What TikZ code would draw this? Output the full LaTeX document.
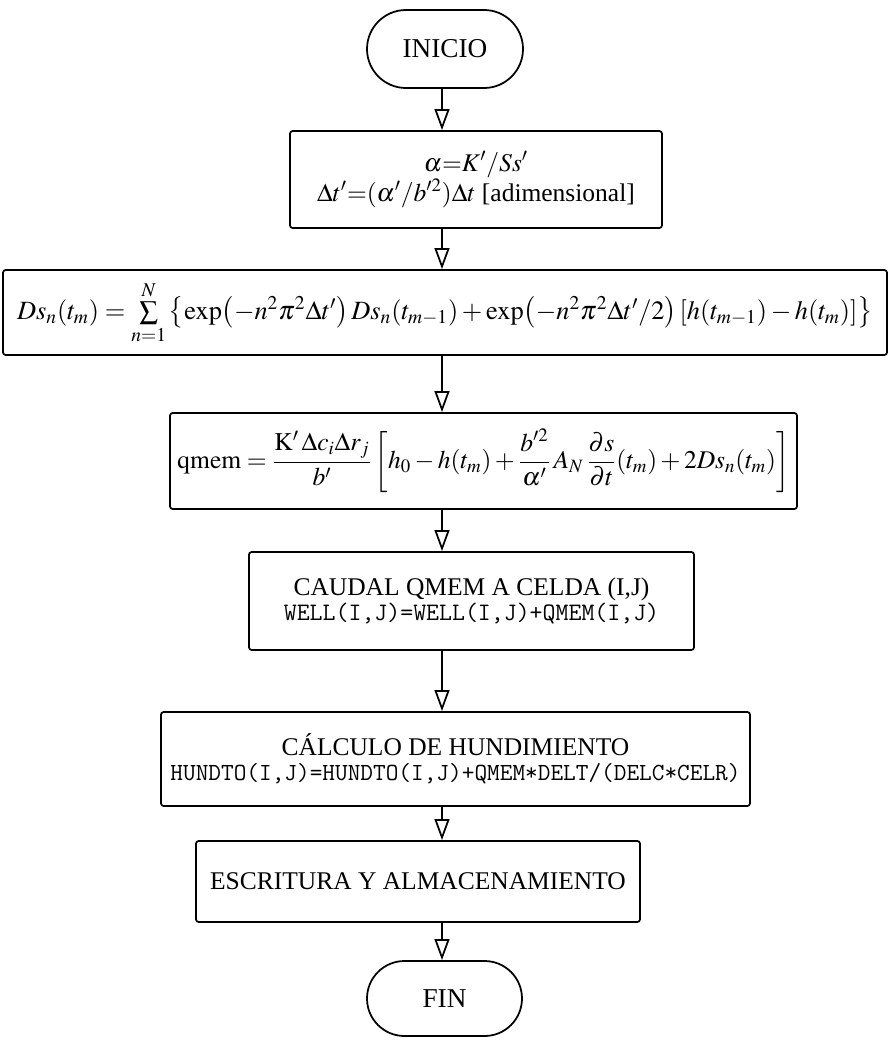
\documentclass[tikz,border=0pt]{standalone}
\usepackage{mathptmx}
\usepackage{fontspec}
\setmainfont{Liberation Serif}
\usepackage{amsmath}
\usetikzlibrary{arrows.meta, shapes.misc}
\newcommand{\enpar}[1]{\mathopen{}\left(#1\right)}

\begin{document}
\begin{tikzpicture}[line width = 1pt,
  >={Triangle[open, length=12pt, width=8.5pt]},
  caja/.style = {draw, rectangle, rounded corners=1.5pt, inner sep=0pt, align=center,
                 font=\fontsize{14.5}{17}\selectfont},
  terminal/.style = {draw, rounded rectangle, inner sep=0pt,
                 font=\fontsize{15.5}{17}\selectfont},
  flecha/.style = {->, line width=1pt}]

\useasboundingbox (0,0) rectangle (17.8,-20.84);

% flow axis
\coordinate (eje) at (8.84,0);

% terminals
\node(inicio) at (8.90,-0.98) [terminal, minimum width=3.12cm, minimum height=1.56cm]{INICIO};
\node(fin) at (8.89,-19.97) [terminal, minimum width=3.10cm, minimum height=1.50cm]{FIN};

% process boxes
\node(param) at (9.52,-3.59) [caja, minimum width=7.44cm, minimum height=1.94cm]
  {$\alpha{=}K'/Ss'$\\ $\Delta t'{=}(\alpha'/b'^{2})\Delta t$ [adimensional]};
\node(serie) at (8.90,-6.25) [caja, minimum width=17.68cm, minimum height=1.70cm,
                              font=\fontsize{15}{17}\selectfont]
  {$Ds_n\enpar{t_m}=\sum\limits_{n=1}^{N}\left\{\exp\enpar{-n^2\pi^2\Delta t'}Ds_n\enpar{t_{m-1}}
   +\exp\enpar{-n^2\pi^2\Delta t'/2}\left[h\enpar{t_{m-1}}-h\enpar{t_m}\right]\right\}$};
\node(qmem) at (9.67,-9.22) [caja, minimum width=12.54cm, minimum height=1.92cm]
  {$\displaystyle \mathrm{qmem}=\frac{\mathrm{K}'\,\Delta c_i\Delta r_j}{b'}\left[h_0-h\enpar{t_m}
   +\frac{b'^2}{\alpha'}\,A_N\,\frac{\partial s}{\partial t}\enpar{t_m}+2Ds_n\enpar{t_m}\right]$};
\node(caudal) at (9.43,-12.02) [caja, minimum width=8.90cm, minimum height=1.96cm]
  {CAUDAL QMEM A CELDA (I,J)\\[-3pt] {\ttfamily\fontsize{14.3}{14}\selectfont WELL(I,J)=WELL(I,J)+QMEM(I,J)}};
\node(hund) at (9.11,-15.18) [caja, minimum width=11.78cm, minimum height=1.88cm]
  {CÁLCULO DE HUNDIMIENTO\\[-3pt] {\ttfamily\fontsize{14}{14}\selectfont HUNDTO(I,J)=HUNDTO(I,J)+QMEM*DELT/(DELC*CELR)}};
\node(escr) at (8.36,-17.63) [caja, minimum width=8.88cm, minimum height=1.62cm]
  {ESCRITURA Y ALMACENAMIENTO};

% arrows
\draw[flecha] (eje |- inicio.south) -- (eje |- param.north);
\draw[flecha] (eje |- param.south) -- (eje |- serie.north);
\draw[flecha] (eje |- serie.south) -- (eje |- qmem.north);
\draw[flecha] (eje |- qmem.south) -- (eje |- caudal.north);
\draw[flecha] (eje |- caudal.south) -- (eje |- hund.north);
\draw[flecha] (eje |- hund.south) -- (eje |- escr.north);
\draw[flecha] (eje |- escr.south) -- (eje |- fin.north);

\end{tikzpicture}
\end{document}
